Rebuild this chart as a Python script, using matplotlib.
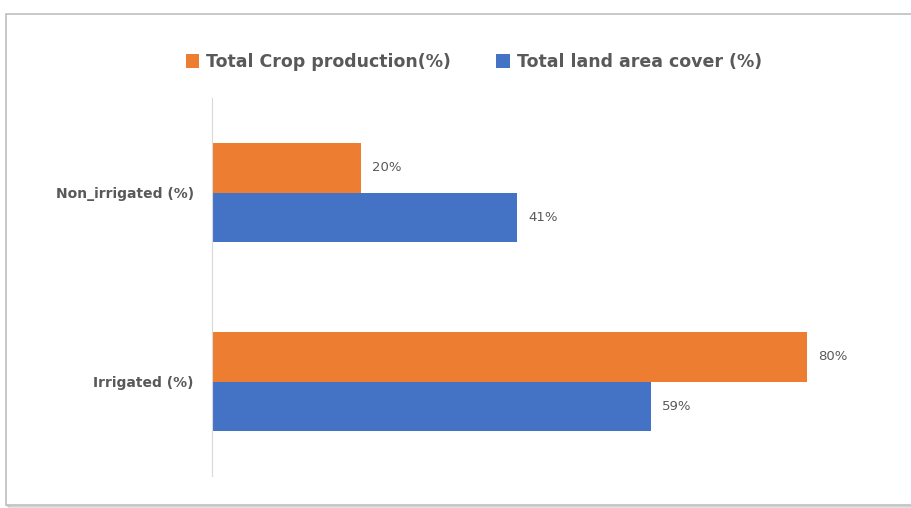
import numpy as np
import matplotlib
matplotlib.use('Agg')
import matplotlib.pyplot as plt
from matplotlib.patches import Rectangle

categories = ['Irrigated (%)', 'Non_irrigated (%)']
crop_production = [80, 20]
land_cover = [59, 41]
series_names = ['Total Crop production(%)', 'Total land area cover (%)']

orange = '#ED7D31'
blue = '#4472C4'
gray = '#595959'

fig = plt.figure(figsize=(9.11, 5.08), dpi=100)

# chart frame with a soft shadow
W, H = 911, 508
for i, a in enumerate([0.10, 0.07, 0.04]):
    fig.patches.append(Rectangle(((6 + i + 1) / W, 1 - (505 + i + 1) / H), (920 - 6) / W, (505 - 14) / H,
                                 transform=fig.transFigure, facecolor='none',
                                 edgecolor='black', alpha=a, lw=1.5, zorder=-2))
fig.patches.append(Rectangle((6 / W, 1 - 505 / H), (920 - 6) / W, (505 - 14) / H,
                             transform=fig.transFigure, facecolor='white',
                             edgecolor='#BFBFBF', lw=1.2, zorder=-1))

ax = fig.add_axes([212 / W, 1 - 476 / H, (878 - 212) / W, (476 - 98) / H])
ax.set_facecolor('none')

y = np.arange(len(categories))
h = 0.263
b1 = ax.barh(y + h / 2, crop_production, height=h, color=orange, label=series_names[0])
b2 = ax.barh(y - h / 2, land_cover, height=h, color=blue, label=series_names[1])

for bars, vals in [(b1, crop_production), (b2, land_cover)]:
    for bar, v in zip(bars, vals):
        ax.text(bar.get_width() + 1.5, bar.get_y() + bar.get_height() / 2, f'{v}%',
                va='center', ha='left', fontsize=9.5, color=gray)

ax.set_xlim(0, 89.5)
ax.set_ylim(-0.5, 1.5)
ax.set_yticks(y)
ax.set_yticklabels(categories, fontsize=10, fontweight='bold', color=gray)
ax.tick_params(axis='y', length=0, pad=13)
ax.set_xticks([])
for s in ['top', 'right', 'bottom']:
    ax.spines[s].set_visible(False)
ax.spines['left'].set_color('#D9D9D9')

fig.legend(handles=[b1, b2], loc='center', bbox_to_anchor=(474 / W, 1 - 62 / H), ncol=2,
           frameon=False, handlelength=0.8, handleheight=0.8,
           handletextpad=0.4, columnspacing=2.6,
           prop={'weight': 'bold', 'size': 12.5})
for t in fig.legends[0].get_texts():
    t.set_color(gray)

fig.savefig('out.png', dpi=100)
